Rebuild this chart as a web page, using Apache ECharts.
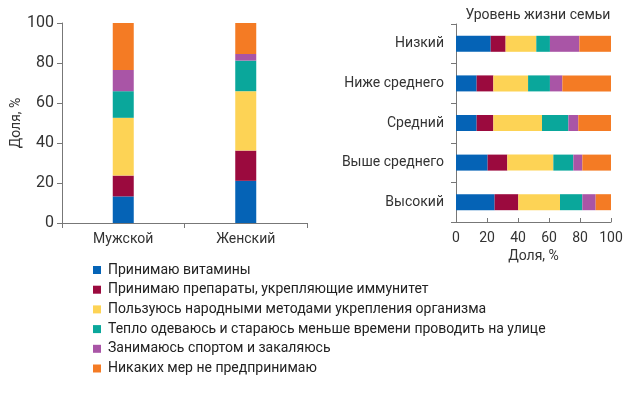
<!DOCTYPE html>
<html><head><meta charset="utf-8">
<script src="https://cdn.jsdelivr.net/npm/echarts@6/dist/echarts.min.js"></script>
<style>html,body{margin:0;padding:0;background:#fff}#c{width:640px;height:413px}</style>
</head><body><div id="c"></div>
<script>
const seriesNames = ['Принимаю витамины','Принимаю препараты, укрепляющие иммунитет','Пользуюсь народными методами укрепления организма','Тепло одеваюсь и стараюсь меньше времени проводить на улице','Занимаюсь спортом и закаляюсь','Никаких мер не предпринимаю'];
const colors = ['#0563b6','#9b0a3e','#fdd355','#0aa79b','#a955a6','#f47b24'];
const genderCats = ['Мужской','Женский'];
const genderVitamins = [13.3, 21.1];
const genderImmune = [10.4, 15.1];
const genderFolk = [28.9, 29.7];
const genderWarm = [13.3, 15.3];
const genderSport = [10.6, 3.3];
const genderNone = [23.5, 15.5];
const levelCats = ['Высокий','Выше среднего','Средний','Ниже среднего','Низкий'];
const levelVitamins = [24.9, 20.4, 13.3, 13.3, 22.4];
const levelImmune = [15.3, 12.7, 10.8, 10.8, 9.6];
const levelFolk = [26.9, 29.7, 31.4, 22.4, 19.8];
const levelWarm = [14.4, 12.9, 17.0, 14.1, 8.8];
const levelSport = [8.6, 5.8, 6.4, 8.0, 19.0];
const levelNone = [9.9, 18.5, 21.1, 31.4, 20.4];
const ticks = [0,20,40,60,80,100];

const genderData = [genderVitamins, genderImmune, genderFolk, genderWarm, genderSport, genderNone];
const levelData = [levelVitamins, levelImmune, levelFolk, levelWarm, levelSport, levelNone];
const font = 'Roboto, sans-serif';
const txt = '#333';
const axisLine = {show:true, lineStyle:{color:'#777', width:1}};

const series = [];
genderData.forEach((d,i)=>series.push({name:seriesNames[i], type:'bar', stack:'g', xAxisIndex:0, yAxisIndex:0, barWidth:21, data:d, itemStyle:{color:colors[i]}, silent:true}));
levelData.forEach((d,i)=>series.push({name:seriesNames[i], type:'bar', stack:'l', xAxisIndex:1, yAxisIndex:1, barWidth:16, data:d, itemStyle:{color:colors[i]}, silent:true}));

const chart = echarts.init(document.getElementById('c'), null, {renderer:'canvas'});
chart.setOption({
  animation:false,
  textStyle:{fontFamily:font},
  color:colors,
  title:{text:'Уровень жизни семьи', left:533, top:3, textAlign:'center', textStyle:{fontFamily:font, fontSize:14, fontWeight:'normal', color:txt}},
  legend:{data:seriesNames, orient:'vertical', left:93, top:263, padding:0, itemWidth:8, itemHeight:8, itemGap:5.7, icon:'rect', selectedMode:false,
    textStyle:{fontFamily:font, fontSize:14, lineHeight:14, color:'#222', padding:[0,0,0,2]}},
  grid:[
    {left:62, top:23, width:245, height:200},
    {left:456, top:24, width:155, height:198}
  ],
  xAxis:[
    {gridIndex:0, type:'category', data:genderCats, axisLine:axisLine, axisTick:{show:true, alignWithLabel:false, length:5, lineStyle:{color:'#777'}},
      axisLabel:{fontFamily:font, fontSize:14, color:txt, margin:9}},
    {gridIndex:1, type:'value', min:0, max:100, interval:20, axisLine:axisLine, axisTick:{show:true, inside:true, length:4, lineStyle:{color:'#777'}},
      splitLine:{show:false}, axisLabel:{fontFamily:font, fontSize:14, color:txt, margin:9, formatter:v=>ticks.includes(v)?String(v):''},
      name:'Доля, %', nameLocation:'middle', nameGap:27, nameTextStyle:{fontFamily:font, fontSize:14, color:txt}}
  ],
  yAxis:[
    {gridIndex:0, type:'value', min:0, max:100, interval:20, axisLine:axisLine, axisTick:{show:true, length:5, lineStyle:{color:'#777'}},
      splitLine:{show:false}, axisLabel:{fontFamily:font, fontSize:16, color:txt, margin:8},
      name:'Доля, %', nameLocation:'middle', nameGap:35, nameRotate:90, nameTextStyle:{fontFamily:font, fontSize:14, color:txt}},
    {gridIndex:1, type:'category', data:levelCats, axisLine:axisLine, axisTick:{show:true, length:5, lineStyle:{color:'#777'}},
      axisLabel:{fontFamily:font, fontSize:14, color:txt, margin:12}}
  ],
  series:series
});
</script></body></html>
